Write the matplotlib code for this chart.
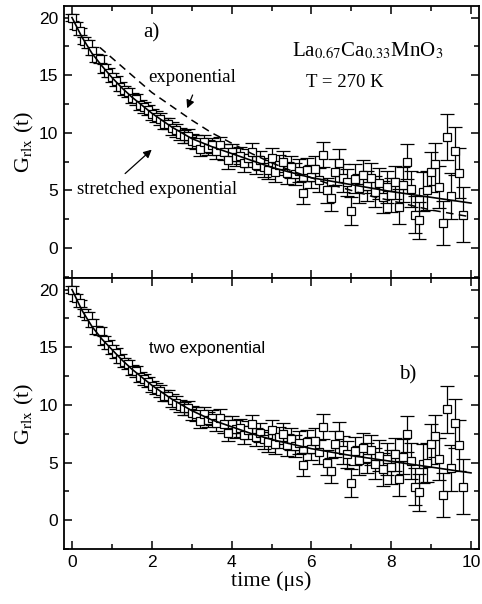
import matplotlib
matplotlib.use("Agg")
import matplotlib.pyplot as plt
import numpy as np
from matplotlib.ticker import MultipleLocator

plt.rcParams['font.family'] = ['Liberation Serif', 'DejaVu Serif']
plt.rcParams['mathtext.fontset'] = 'stix'

# muon relaxation data, 0.1 us bins
t = [0.0, 0.1, 0.2, 0.3, 0.4, 0.5, 0.6, 0.7, 0.8, 0.9,
     1.0, 1.1, 1.2, 1.3, 1.4, 1.5, 1.6, 1.7, 1.8, 1.9,
     2.0, 2.1, 2.2, 2.3, 2.4, 2.5, 2.6, 2.7, 2.8, 2.9,
     3.0, 3.1, 3.2, 3.3, 3.4, 3.5, 3.6, 3.7, 3.8, 3.9,
     4.0, 4.1, 4.2, 4.3, 4.4, 4.5, 4.6, 4.7, 4.8, 4.9,
     5.0, 5.1, 5.2, 5.3, 5.4, 5.5, 5.6, 5.7, 5.8, 5.9,
     6.0, 6.1, 6.2, 6.3, 6.4, 6.5, 6.6, 6.7, 6.8, 6.9,
     7.0, 7.1, 7.2, 7.3, 7.4, 7.5, 7.6, 7.7, 7.8, 7.9,
     8.0, 8.1, 8.2, 8.3, 8.4, 8.5, 8.6, 8.7, 8.8, 8.9,
     9.0, 9.1, 9.2, 9.3, 9.4, 9.5, 9.6, 9.7, 9.8]
G = [20.0, 19.3, 18.8, 18.0, 17.7, 17.1, 16.5, 16.4, 15.6, 15.2,
     14.8, 14.5, 14.0, 13.7, 13.5, 13.0, 12.9, 12.4, 12.2, 12.0,
     11.6, 11.4, 11.2, 10.8, 10.8, 10.4, 10.2, 9.9, 9.7, 9.7,
     9.3, 9.2, 8.6, 9.2, 8.7, 8.9, 8.4, 8.9, 8.3, 7.6,
     8.3, 7.9, 8.0, 7.4, 7.8, 8.3, 7.2, 7.6, 7.0, 6.8,
     7.8, 6.6, 7.2, 7.5, 6.5, 7.0, 6.4, 6.7, 4.8, 6.8,
     6.2, 6.9, 5.9, 8.1, 5.0, 4.3, 6.6, 7.4, 6.1, 5.7,
     3.2, 6.0, 5.2, 6.3, 5.4, 6.1, 4.9, 5.6, 4.4, 5.3,
     4.6, 5.7, 3.6, 5.5, 7.5, 5.1, 2.9, 2.4, 4.9, 5.0,
     6.6, 7.3, 5.3, 2.2, 9.6, 4.5, 8.4, 6.5, 2.9]
dG = [0.3, 0.3, 0.3, 0.3, 0.35, 0.35, 0.35, 0.35, 0.4, 0.4,
      0.4, 0.4, 0.4, 0.4, 0.4, 0.45, 0.45, 0.45, 0.45, 0.45,
      0.5, 0.5, 0.5, 0.5, 0.5, 0.55, 0.55, 0.55, 0.55, 0.6,
      0.6, 0.6, 0.6, 0.65, 0.65, 0.65, 0.7, 0.7, 0.7, 0.7,
      0.75, 0.75, 0.75, 0.8, 0.8, 0.8, 0.8, 0.85, 0.85, 0.85,
      0.9, 0.9, 0.9, 0.9, 0.95, 0.95, 0.95, 1.0, 1.0, 1.0,
      1.0, 1.05, 1.05, 1.1, 1.1, 1.1, 1.15, 1.15, 1.2, 1.2,
      1.2, 1.25, 1.25, 1.3, 1.3, 1.3, 1.35, 1.35, 1.4, 1.4,
      1.45, 1.45, 1.5, 1.5, 1.55, 1.55, 1.6, 1.6, 1.7, 1.7,
      1.75, 1.8, 1.85, 1.9, 2.0, 2.0, 2.1, 2.2, 2.4]

# fitted curves
t_fit = [0.0, 0.25, 0.5, 0.75, 1.0, 1.25, 1.5, 1.75, 2.0, 2.5, 3.0, 3.5,
         4.0, 4.5, 5.0, 6.0, 7.0, 8.0, 9.0, 10.0]
G_stretched = [20.0, 18.3, 16.9, 15.8, 14.8, 13.9, 13.1, 12.4, 11.7, 10.5,
               9.5, 8.8, 8.2, 7.6, 7.0, 6.1, 5.5, 4.9, 4.4, 3.9]
G_twoexp = [20.0, 18.2, 16.8, 15.7, 14.8, 13.9, 13.1, 12.4, 11.7, 10.5,
            9.5, 8.7, 8.1, 7.5, 7.0, 6.2, 5.6, 5.1, 4.6, 4.1]
t_exp = [0.7, 1.0, 1.5, 2.0, 2.5, 3.0, 3.5, 4.0, 4.5, 5.0, 5.5,
         6.0, 6.5, 7.0, 7.5, 8.0, 8.5, 9.0, 9.5, 10.0]
G_exp = [17.4, 16.5, 15.0, 13.5, 12.3, 11.1, 10.0, 9.1, 8.2, 7.4,
         6.7, 6.1, 5.5, 5.0, 4.5, 4.1, 3.7, 3.3, 3.0, 2.7]

SANS = ['Liberation Sans', 'DejaVu Sans']

fig = plt.figure(figsize=(4.82, 6.04), dpi=100)
ax1 = fig.add_axes([64/482, 1-278/604, 415/482, 272/604])
ax2 = fig.add_axes([64/482, 1-549/604, 415/482, 271/604])


def style(ax, ylo):
    ax.set_xlim(-0.2, 10.2)
    ax.set_ylim(ylo, 21.0)
    ax.xaxis.set_major_locator(MultipleLocator(2))
    ax.xaxis.set_minor_locator(MultipleLocator(1))
    ax.yaxis.set_major_locator(MultipleLocator(5))
    ax.yaxis.set_minor_locator(MultipleLocator(2.5))
    ax.tick_params(which='both', direction='in', top=True, right=True,
                   width=1.1)
    ax.tick_params(which='major', length=6, pad=4)
    ax.tick_params(which='minor', length=3.5)
    for lab in ax.get_xticklabels() + ax.get_yticklabels():
        lab.set_family(SANS)
        lab.set_fontsize(12.5)
    for s in ax.spines.values():
        s.set_linewidth(1.3)
    ax.set_ylabel(r'G$_{\rm rlx}$ (t)', fontsize=16, labelpad=2)
    ax.errorbar(t, G, yerr=dG, fmt='s', ms=5.5, mfc='white', mec='black',
                mew=0.9, ecolor='black', elinewidth=0.9, capsize=5,
                capthick=0.9, zorder=2)


style(ax1, -2.6)
style(ax2, -2.5)
ax1.tick_params(labelbottom=False)

ax1.plot(t_exp, G_exp, color='black', lw=1.1, ls=(0, (5, 3.5)), zorder=3)
ax1.plot(t_fit, G_stretched, color='black', lw=1.2, zorder=3)
ax2.plot(t_fit, G_twoexp, color='black', lw=1.2, zorder=3)

ax1.text(2.0, 18.7, 'a)', fontsize=15, ha='center', va='center')
ax1.text(3.0, 14.8, 'exponential', fontsize=13.5, ha='center', va='center')
ax1.annotate('', xy=(2.86, 11.9), xytext=(3.05, 13.5),
             arrowprops=dict(arrowstyle='-|>', color='black', lw=0.9,
                             mutation_scale=12))
ax1.text(2.12, 5.1, 'stretched exponential', fontsize=13.5, ha='center',
         va='center')
ax1.annotate('', xy=(2.05, 8.7), xytext=(1.28, 6.3),
             arrowprops=dict(arrowstyle='-|>', color='black', lw=0.9,
                             mutation_scale=12))
ax1.text(7.41, 17.1, r'La$_{0.67}$Ca$_{0.33}$MnO$_3$', fontsize=15,
         ha='center', va='center')
ax1.text(6.83, 14.4, 'T = 270 K', fontsize=13.5, ha='center', va='center')

ax2.text(8.4, 12.6, 'b)', fontsize=15, ha='center', va='center')
ax2.text(1.93, 14.9, 'two exponential', fontsize=12, ha='left',
         va='center', family=SANS)
ax2.set_xlabel('time (\u03bcs)', fontsize=16, labelpad=1)

fig.savefig('out.png', dpi=100)
